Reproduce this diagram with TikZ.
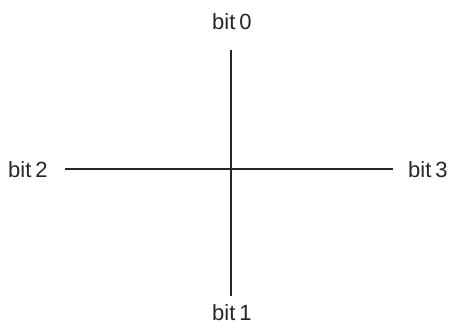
\documentclass[tikz,border=0pt]{standalone}
\usepackage{fontspec}
\setmainfont{Liberation Sans}
\begin{document}
\begin{tikzpicture}[x=1pt,y=-1pt,
  axis/.style={line width=1.6pt,black!85},
  lbl/.style={font=\fontsize{22}{24}\selectfont,inner sep=0pt,text=black!85}]
\useasboundingbox (0,0) rectangle (451,324);
\node[lbl,anchor=base west] (b0) at (212,29) {bit\hspace{4pt}0};
\node[lbl,anchor=base west] (b1) at (212,320.5) {bit\hspace{4pt}1};
\node[lbl,anchor=base west] (b2) at (8,177) {bit\hspace{4pt}2};
\node[lbl,anchor=base west] (b3) at (408,177) {bit\hspace{4pt}3};
\coordinate (top) at (231,50);
\coordinate (bot) at (231,296);
\coordinate (lft) at (65,169);
\coordinate (rgt) at (393,169);
\draw[axis] (top) -- (bot);
\draw[axis] (lft) -- (rgt);
\end{tikzpicture}
\end{document}
